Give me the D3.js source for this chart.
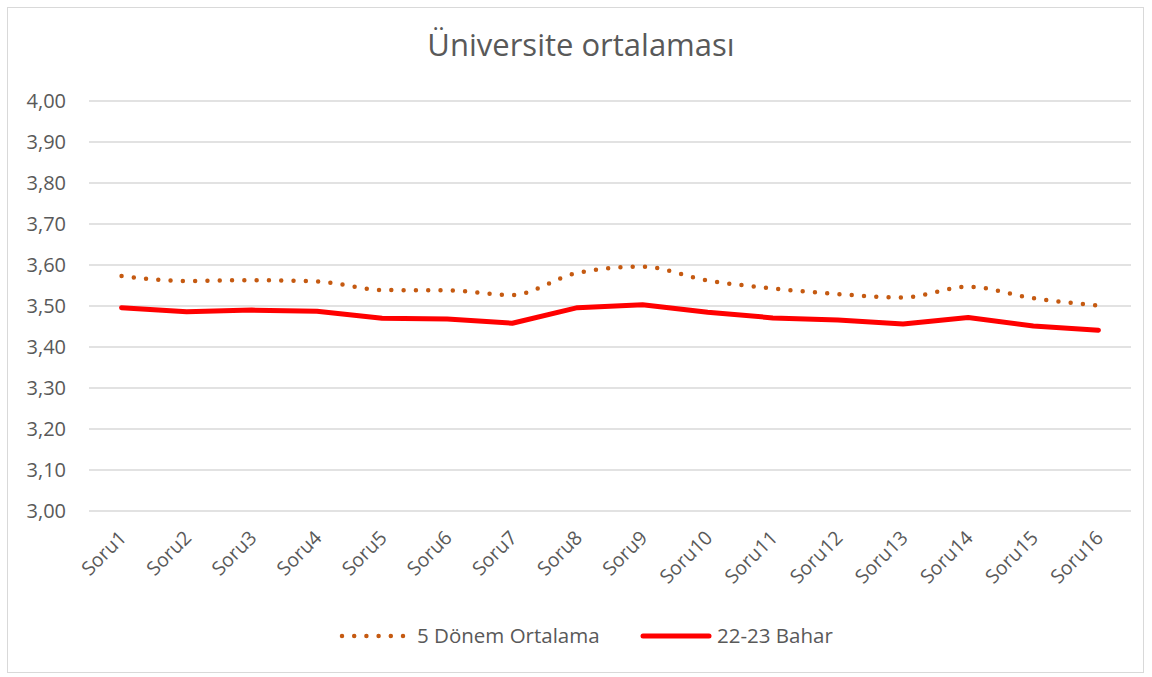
<!DOCTYPE html>
<html><head><meta charset="utf-8">
<script src="https://cdn.jsdelivr.net/npm/d3@7"></script>
<style>body{margin:0;background:#fff;} text{font-family:"Open Sans","Noto Sans",sans-serif;}</style>
</head><body>
<svg id="c" width="1152" height="677"></svg>
<script>
const categories = ["Soru1","Soru2","Soru3","Soru4","Soru5","Soru6","Soru7","Soru8","Soru9","Soru10","Soru11","Soru12","Soru13","Soru14","Soru15","Soru16"];
const donem5 = [3.573,3.561,3.563,3.560,3.539,3.538,3.527,3.581,3.596,3.562,3.543,3.529,3.521,3.547,3.519,3.501];
const bahar = [3.496,3.486,3.490,3.487,3.470,3.468,3.458,3.496,3.503,3.485,3.471,3.466,3.456,3.472,3.451,3.441];
const yTicks = [3.0,3.1,3.2,3.3,3.4,3.5,3.6,3.7,3.8,3.9,4.0];
const seriesNames = ["5 Dönem Ortalama","22-23 Bahar"];

const svg = d3.select("#c");
svg.append("rect").attr("x",7.5).attr("y",7.5).attr("width",1136).attr("height",665)
  .attr("fill","#fff").attr("stroke","#d9d9d9");
svg.append("text").attr("x",581).attr("y",56).attr("text-anchor","middle")
  .attr("font-size",31).attr("fill","#595959").text("Üniversite ortalaması");

const x = d3.scaleBand().domain(categories).range([89,1131]);
const y = d3.scaleLinear().domain([3.0,4.0]).range([511,101]);
const fmt = d => d.toFixed(2).replace(".",",");

const grid = svg.append("g");
grid.selectAll("line").data(yTicks).join("line")
  .attr("x1",89).attr("x2",1131).attr("y1",d=>y(d)).attr("y2",d=>y(d))
  .attr("stroke","#d9d9d9").attr("stroke-width",1.3);

const yAxis = svg.append("g").attr("transform","translate(89,0)")
  .call(d3.axisLeft(y).tickValues(yTicks).tickFormat(fmt).tickSize(0).tickPadding(23));
yAxis.select(".domain").remove();
yAxis.selectAll("text").attr("font-size",20).attr("fill","#595959");

const xAxis = svg.append("g").attr("transform","translate(0,511)")
  .call(d3.axisBottom(x).tickSize(0).tickPadding(0));
xAxis.select(".domain").remove();
xAxis.selectAll("text").attr("font-size",19.5).attr("fill","#595959")
  .attr("text-anchor","end").attr("dy",0)
  .attr("transform","translate(6,28) rotate(-45)");

const line = d3.line().x((d,i)=>x(categories[i])+x.bandwidth()/2).y(d=>y(d)).curve(d3.curveMonotoneX);
svg.append("path").attr("d",line(donem5)).attr("fill","none").attr("stroke","#C55A11")
  .attr("stroke-width",4.5).attr("stroke-linecap","round").attr("stroke-dasharray","0 12.3");
svg.append("path").attr("d",d3.line().x((d,i)=>x(categories[i])+x.bandwidth()/2).y(d=>y(d))(bahar))
  .attr("fill","none").attr("stroke","#FF0000").attr("stroke-width",5).attr("stroke-linecap","round").attr("stroke-linejoin","round");

// legend
const lg = svg.append("g");
lg.append("line").attr("x1",342).attr("x2",404).attr("y1",636).attr("y2",636)
  .attr("stroke","#C55A11").attr("stroke-width",4.5).attr("stroke-linecap","round").attr("stroke-dasharray","0 12.2");
lg.append("text").attr("x",417).attr("y",643).attr("font-size",20.5).attr("fill","#595959").text(seriesNames[0]);
lg.append("line").attr("x1",643).attr("x2",709).attr("y1",636).attr("y2",636)
  .attr("stroke","#FF0000").attr("stroke-width",5).attr("stroke-linecap","round");
lg.append("text").attr("x",717).attr("y",643).attr("font-size",20.5).attr("fill","#595959").text(seriesNames[1]);
</script>
</body></html>
